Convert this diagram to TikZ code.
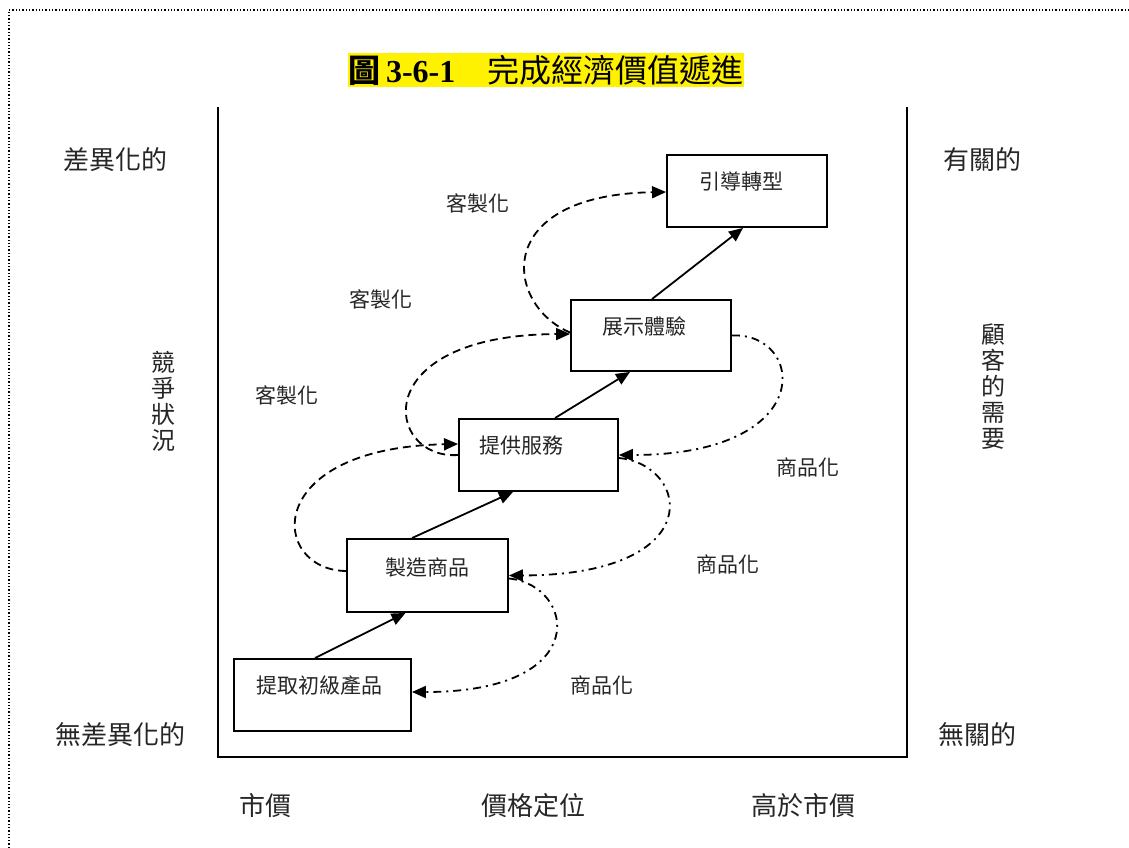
\documentclass[tikz,border=0pt]{standalone}
\usepackage{fontspec}
\setmainfont{Noto Sans CJK TC}
\newfontfamily\tnr{Liberation Serif}
\usetikzlibrary{arrows.meta,calc}
\begin{document}
\begin{tikzpicture}[x=1pt,y=-1pt,
  box/.style={draw,line width=1.9pt,inner sep=0pt},
  inlbl/.style={font=\fontsize{21}{24}\selectfont,text=black!85,inner sep=0pt},
  outlbl/.style={font=\fontsize{26}{27}\selectfont,text=black!85,inner sep=0pt},
  vlbl/.style={font=\fontsize{24}{26}\selectfont,text=black!85,inner sep=0pt,align=center},
  axis/.style={line width=2.3pt},
  up/.style={line width=1.8pt,-{Triangle[length=14pt,width=12pt]}},
  cust/.style={line width=1.8pt,dash pattern=on 8pt off 5pt,-{Triangle[length=14pt,width=12pt]}},
  comm/.style={line width=1.8pt,dash pattern=on 8pt off 5pt on 2pt off 5pt,-{Triangle[length=14pt,width=12pt]}},
  frame/.style={line width=1.3pt,dash pattern=on 1.3pt off 2pt}]
\useasboundingbox (0,0) rectangle (1129,848);
% frame
\coordinate (fa) at (9,848);
\coordinate (fb) at (9,10);
\coordinate (fc) at (1129,10);
\draw[frame] (fa) -- (fb) -- (fc);
% title
\node[fill=yellow,inner xsep=1pt,inner ysep=0pt,minimum height=34pt] (title) at (546,70)
  {\bfseries\fontsize{32}{34}\selectfont 圖\,{\tnr 3-6-1}　\mdseries 完成經濟價值遞進};
% axes
\coordinate (ltop) at (218,107);
\coordinate (lbot) at (218,757);
\coordinate (rbot) at (907,757);
\coordinate (rtop) at (907,107);
\draw[axis] (ltop) -- (lbot) -- (rbot) -- (rtop);
% boxes
\node[box,minimum width=177pt,minimum height=72pt] (b1) at (322.5,695) {};
\node[box,minimum width=161pt,minimum height=73pt] (b2) at (427.5,575.5) {};
\node[box,minimum width=159pt,minimum height=72pt] (b3) at (538.5,455) {};
\node[box,minimum width=160pt,minimum height=71pt] (b4) at (651,335.5) {};
\node[box,minimum width=160pt,minimum height=72pt] (b5) at (747,191) {};
\node[inlbl] (t1) at (319,686) {提取初級產品};
\node[inlbl] (t2) at (427,567) {製造商品};
\node[inlbl] (t3) at (521,446) {提供服務};
\node[inlbl] (t4) at (644,326) {展示體驗};
\node[inlbl] (t5) at (741,182) {引導轉型};
% solid arrows
\draw[up] ([xshift=-7.5pt]b1.north) -- ([xshift=-22pt]b2.south);
\draw[up] ([xshift=-15.5pt]b2.north) -- ([xshift=-25.5pt]b3.south);
\draw[up] ([xshift=16.5pt]b3.north) -- ([xshift=-21pt]b4.south);
\draw[up] ([xshift=1pt]b4.north) -- ([xshift=-4pt]b5.south);
% customization curves (dashed)
\draw[cust] ([yshift=4.5pt]b2.west) .. controls (270,570) and (260,448) .. ([yshift=11pt]b3.west);
\draw[cust] (b3.west) .. controls (385,460) and (365,335) .. ([yshift=1.5pt]b4.west);
\draw[cust] ([yshift=3pt]b4.west) .. controls (505,305) and (490,195) .. ([yshift=-1pt]b5.west);
% commoditization curves (dash-dot)
\draw[comm] (b4.east) .. controls (805,332) and (820,455) .. (b3.east);
\draw[comm] ([yshift=-3pt]b3.east) .. controls (690,465) and (710,575) .. (b2.east);
\draw[comm] ([yshift=-3pt]b2.east) .. controls (575,585) and (595,692) .. ([yshift=3pt]b1.east);
% curve labels
\node[inlbl] (k1) at (478,203) {客製化};
\node[inlbl] (k2) at (381,299) {客製化};
\node[inlbl] (k3) at (287,395) {客製化};
\node[inlbl] (s1) at (808,467) {商品化};
\node[inlbl] (s2) at (728,564) {商品化};
\node[inlbl] (s3) at (602,685) {商品化};
% outer labels
\node[outlbl] (dl) at (115,160) {差異化的};
\node[outlbl] (ndl) at (120,735) {無差異化的};
\node[outlbl] (rel) at (982,160) {有關的};
\node[outlbl] (nrel) at (977,735) {無關的};
\node[vlbl] (comp) at (163,401) {競\\爭\\狀\\況};
\node[vlbl] (need) at (993,387) {顧\\客\\的\\需\\要};
\node[outlbl] (mp) at (265,806) {市價};
\node[outlbl] (pp) at (533,806) {價格定位};
\node[outlbl] (hp) at (803,806) {高於市價};
\end{tikzpicture}
\end{document}
